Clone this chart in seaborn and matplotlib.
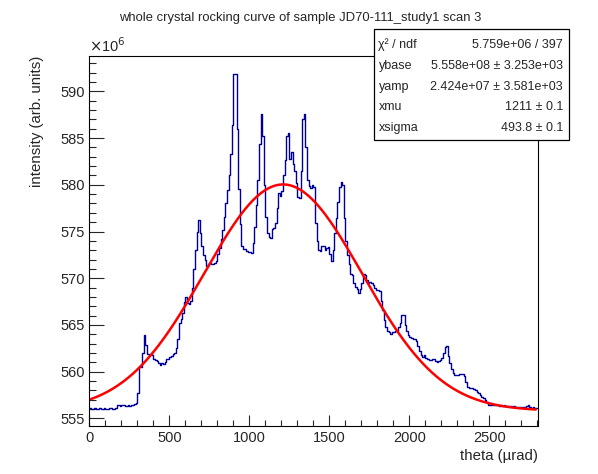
import numpy as np
import pandas as pd
import matplotlib
matplotlib.use("Agg")
import matplotlib.pyplot as plt
from matplotlib.patches import Rectangle
from matplotlib.ticker import MultipleLocator
import seaborn as sns

# histogram: 10 urad bins from 0 to 2800, intensity in units of 1e6
bin_width = 10
intensity = [
    556.1, 556.0, 556.0, 556.1, 556.0, 556.0, 556.1, 556.0, 556.0, 556.1,  # 0
    556.0, 556.0, 556.1, 556.1, 556.0, 556.0, 556.1, 556.4, 556.4, 556.3,  # 100
    556.4, 556.4, 556.3, 556.3, 556.4, 556.3, 556.4, 556.4, 556.5, 556.6,  # 200
    557.7, 560.5, 560.5, 562.0, 563.9, 562.8, 561.9, 561.8, 561.9, 561.8,  # 300
    561.4, 561.2, 561.1, 560.9, 560.7, 560.9, 560.8, 561.0, 561.3, 561.4,  # 400
    561.6, 561.7, 561.9, 562.0, 562.5, 563.5, 565.2, 565.6, 566.3, 567.5,  # 500
    568.0, 567.3, 567.2, 567.6, 569.0, 571.0, 573.0, 575.0, 576.2, 574.8,  # 600
    573.5, 572.5, 572.0, 571.3, 571.5, 571.6, 571.5, 571.5, 571.6, 571.8,  # 700
    572.6, 573.2, 574.2, 575.2, 576.6, 578.0, 579.4, 581.0, 583.3, 586.4,  # 800
    591.9, 591.9, 586.0, 579.5, 575.8, 573.5, 573.1, 573.1, 572.9, 572.8,  # 900
    572.8, 572.7, 573.8, 575.5, 577.8, 580.5, 584.4, 587.6, 585.2, 580.0,  # 1000
    576.5, 574.8, 574.4, 574.3, 575.3, 575.4, 575.9, 577.5, 579.1, 578.8,  # 1100
    579.3, 581.0, 582.7, 585.2, 585.5, 582.8, 583.5, 582.2, 581.5, 580.2,  # 1200
    578.7, 578.6, 581.5, 587.0, 587.6, 584.0, 580.5, 579.9, 579.7, 580.0,  # 1300
    579.8, 575.9, 574.0, 573.0, 572.9, 573.5, 573.4, 573.0, 573.2, 573.3,  # 1400
    572.6, 571.8, 573.0, 574.8, 576.4, 578.2, 579.8, 580.3, 580.0, 576.4,  # 1500
    574.0, 572.5, 571.5, 570.5, 570.3, 569.5, 569.1, 568.8, 568.4, 568.8,  # 1600
    569.5, 570.5, 570.3, 569.8, 569.5, 569.6, 569.5, 569.3, 569.0, 568.7,  # 1700
    568.7, 568.6, 567.6, 566.6, 565.5, 564.8, 564.4, 564.2, 564.0, 564.2,  # 1800
    564.2, 564.3, 564.4, 564.8, 565.2, 566.1, 566.1, 565.0, 564.3, 563.9,  # 1900
    563.7, 563.6, 563.5, 563.5, 563.3, 562.7, 562.2, 561.8, 561.6, 561.8,  # 2000
    561.5, 561.3, 561.2, 561.2, 561.3, 561.3, 561.1, 561.0, 561.1, 561.2,  # 2100
    561.5, 562.0, 562.6, 562.7, 561.7, 560.9, 560.3, 559.9, 559.6, 559.6,  # 2200
    559.6, 559.7, 559.8, 559.7, 559.5, 558.9, 558.4, 558.3, 558.2, 558.2,  # 2300
    558.1, 558.0, 557.8, 557.7, 557.5, 557.3, 557.2, 557.0, 556.7, 556.4,  # 2400
    556.4, 556.4, 556.45, 556.4, 556.4, 556.4, 556.35, 556.4, 556.3, 556.4,  # 2500
    556.3, 556.35, 556.3, 556.3, 556.25, 556.3, 556.2, 556.25, 556.2, 556.2,  # 2600
    556.2, 556.25, 556.2, 556.3, 556.4, 556.2, 556.15, 556.2, 556.15, 556.1,  # 2700
]

# fit parameters (from the stats box)
ybase = 5.558e8
yamp = 2.424e7
xmu = 1211
xsigma = 493.8
fit_range = (10, 2790)

stat_names = ["χ² / ndf", "ybase", "yamp", "xmu", "xsigma"]
stat_values = ["5.759e+06 / 397", "5.558e+08 ± 3.253e+03", "2.424e+07 ± 3.581e+03",
               "1211 ± 0.1", "493.8 ± 0.1"]

edges = np.arange(len(intensity) + 1) * bin_width
hist_df = pd.DataFrame({"theta": edges, "y": intensity + [intensity[-1]]})

xfit = np.linspace(fit_range[0], fit_range[1], 500)
yfit = (ybase + yamp * np.exp(-(xfit - xmu) ** 2 / (2 * xsigma ** 2))) / 1e6
fit_df = pd.DataFrame({"theta": xfit, "y": yfit})

sns.set_theme(style="white")
plt.rcParams['font.family'] = ['Liberation Sans', 'DejaVu Sans']

W, H = 598, 474
fig = plt.figure(figsize=(W / 100, H / 100), dpi=100)
ax = fig.add_axes([89.3 / W, 1 - 426 / H, (538.3 - 89.3) / W, (426 - 55.7) / H])

sns.lineplot(data=hist_df, x="theta", y="y", ax=ax, estimator=None,
             drawstyle="steps-post", color="#000099", linewidth=1.0)
sns.lineplot(data=fit_df, x="theta", y="y", ax=ax, estimator=None,
             color="#ff0000", linewidth=1.8)

ax.set_xlim(0, 2806)
ax.set_ylim(554.18, 593.82)
ax.xaxis.set_major_locator(MultipleLocator(500))
ax.xaxis.set_minor_locator(MultipleLocator(100))
ax.yaxis.set_major_locator(MultipleLocator(5))
ax.yaxis.set_minor_locator(MultipleLocator(1))
ax.tick_params(axis="x", which="major", direction="in", length=8, width=0.8,
               labelsize=10.5, pad=3.5, bottom=True)
ax.tick_params(axis="x", which="minor", direction="in", length=4, width=0.8, bottom=True)
ax.tick_params(axis="y", which="major", direction="in", length=10.5, width=0.8,
               labelsize=10.5, pad=3, left=True)
ax.tick_params(axis="y", which="minor", direction="in", length=5, width=0.8, left=True)
for s in ax.spines.values():
    s.set_color("black")
    s.set_linewidth(0.8)
ax.set_xlabel("")
ax.set_ylabel("")

ax.text(0, 1.003, r"$\times$10$^{6}$", transform=ax.transAxes, fontsize=10.5,
        ha="left", va="bottom")

fig.text(300 / W, 1 - 18 / H, "whole crystal rocking curve of sample JD70-111_study1 scan 3",
         ha="center", va="center", fontsize=9.4)
fig.text(538.3 / W, 1 - 456 / H, "theta (µrad)", ha="right", va="center", fontsize=10.8)
fig.text(37 / W, 1 - 55.7 / H, "intensity (arb. units)", rotation=90,
         ha="center", va="top", fontsize=10.8)

# stats box
box = Rectangle((374 / W, 1 - 140 / H), (569 - 374) / W, (140 - 29) / H,
                transform=fig.transFigure, facecolor="white", edgecolor="black",
                linewidth=0.9, zorder=5)
fig.patches.append(box)
row_y = [45, 66, 86.7, 107.3, 128.3]
for name, val, yy in zip(stat_names, stat_values, row_y):
    fig.text(378.5 / W, 1 - yy / H, name, ha="left", va="center", fontsize=9, zorder=6)
    fig.text(563 / W, 1 - yy / H, val, ha="right", va="center", fontsize=9, zorder=6)

fig.savefig("out.png", dpi=100)
